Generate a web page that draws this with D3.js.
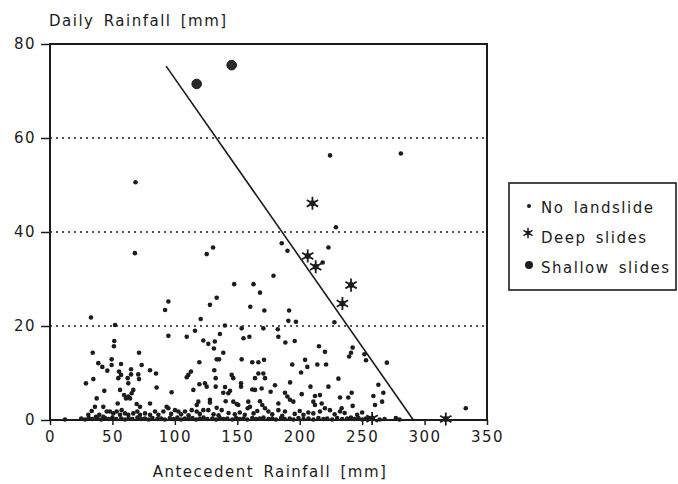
<!DOCTYPE html>
<html>
<head>
<meta charset="utf-8">
<script src="https://d3js.org/d3.v7.min.js"></script>
<style>
  body { margin: 0; background: white; }
  text { font-family: "DejaVu Sans", sans-serif; font-size: 15px; letter-spacing: 1.5px; word-spacing: 3px; fill: #1c1c1c; }
</style>
</head>
<body>
<div id="chart"></div>
<script>
// tick values
var xTicks = [0, 50, 100, 150, 200, 250, 300, 350];
var yTicks = [0, 20, 40, 60, 80];
var gridLines = [20, 40, 60];

// threshold line, two ends [antecedent, daily]
var threshold = [[93, 75.3], [291, 0]];

// shallow slides [antecedent, daily]
var shallowSlides = [[117.5, 71.5], [145.5, 75.5]];

// deep slides
var deepSlides = [[210.2, 46.1], [206.4, 34.9], [212.8, 32.6], [241.1, 28.7], [234.2, 24.8], [258, 0.3], [317, 0.2]];

// no landslide
var noSlideHigh = [
  [68.5, 50.6], [68, 35.5], [224.3, 56.3], [281, 56.7], [229, 41], [223, 36.7], [218.4, 33.5], [185.6, 37.6],
  [190.2, 36], [179, 30.7], [147.5, 28.9], [163, 28.9], [168.2, 27.1], [160.4, 24.1], [171.7, 23.3], [191.5, 23.3],
  [190.9, 21.1], [197, 20.9], [227.8, 20.8], [125.5, 35.3], [130.6, 36.7], [94.8, 25.2], [92.2, 23.4], [133.5, 26],
  [128.1, 24.5], [32.8, 21.8], [52.1, 20.2], [120.7, 21.5], [140.1, 20.1]
];
var noSlideMid = [
  [116.1, 19], [109.5, 17.7], [94.8, 17.9], [136.1, 18.3], [51.5, 16.8], [51.2, 15.7], [122.8, 16.9], [126.8, 16.2],
  [132, 16.7], [131.3, 15.2], [153.5, 19.5], [170.9, 19.5], [182.4, 19.3], [182.9, 17.7], [155, 17.4], [159.7, 17.7],
  [188.5, 16.5], [196, 16.8], [242.4, 15.4], [241.1, 14.3], [239.6, 13.5], [251.8, 14], [253.1, 12.7], [269.8, 12.2],
  [215.4, 15.7], [220.2, 14.5], [34.2, 14.3], [71.3, 14.3], [138.8, 14.3], [153.5, 12.9], [162, 12.3], [166.9, 12.3],
  [171.4, 12.8], [119.6, 12.3], [133.5, 12.9], [135.4, 12.9], [38.7, 12.1], [41.9, 11.3], [49.4, 12.9], [49.4, 11.7],
  [45.9, 10.5], [56.9, 11.9], [64.9, 10.8], [73.4, 11.7], [80.1, 10.6], [84.9, 9.9], [194, 11.8], [204.3, 12.8],
  [206.1, 11.3], [214.1, 11.8], [221.1, 11.8], [201.1, 10.1], [112.9, 10.3], [110.8, 9.6], [109.5, 9.1], [131.6, 10.6],
  [132.7, 8.9], [145.5, 9.6], [146.8, 8.9], [166.9, 9.9], [170.9, 9.9], [164.2, 8.9], [172.2, 8.9]
];
var noSlideLow = [
  [55.3, 10.3], [54.7, 8.9], [56.9, 9.6], [64.9, 9.7], [62.2, 8.9], [70.7, 9.7], [71.3, 8.7], [28.8, 7.8],
  [34.7, 8.7], [43.5, 6.2], [62.7, 7.8], [56.1, 6.4], [59.3, 5.3], [62.7, 5], [65.4, 5.7], [66.7, 6.4],
  [64.1, 4.6], [60.9, 4.6], [85.4, 6.9], [97.4, 5.9], [114.8, 6.4], [119.6, 7.6], [124.1, 7.8], [125.5, 7.1],
  [132.7, 7.1], [140.2, 7], [138.8, 5.8], [144.2, 6.2], [142.8, 5.7], [153, 7.8], [153, 7.1], [162, 6.5],
  [164.2, 6.4], [169.5, 6.7], [176.7, 6], [180.2, 7.4], [231, 8.8], [192.3, 8], [208.6, 7.1], [223, 7.1],
  [263, 7.5], [267, 5.8], [259, 5.1], [266, 3.9], [260.3, 3.2], [201.6, 5.5], [212.2, 5.1], [216.2, 5.3],
  [210.9, 3.9], [212.2, 3.2], [217.6, 3.5], [220.2, 2.5], [224.2, 2.1], [188.2, 5.8], [190.1, 5], [192.2, 4.3],
  [194.9, 3.9], [232.3, 4.8], [238.9, 4.8], [241.6, 5.8], [242.4, 3], [233.6, 2.5], [232.3, 1.8], [188.2, 1.8],
  [206.9, 1.6], [210.9, 1.4], [216.2, 1.8]
];
var noSlideFloor = [
  [37.4, 4.6], [54.2, 3.5], [69.4, 3.4], [72.1, 2.8], [80.1, 3.5], [36, 2.8], [33.4, 1.9], [30.7, 1.1],
  [42.7, 2.8], [45.4, 1.8], [48, 1.8], [50.7, 1.4], [39.5, 1.1], [36.8, 0.7], [42.7, 0.7], [53.4, 1.8],
  [57.4, 2.1], [56.1, 1.1], [60.1, 1.4], [62.7, 1.1], [66.7, 1.4], [69.9, 1.8], [72.1, 1.1], [76.1, 1.4],
  [80.1, 1.1], [84.1, 1.8], [86.8, 1.1], [90.8, 1.8], [94.8, 2.5], [128.1, 4.3], [128.1, 3.7], [140.7, 4],
  [146.8, 3.9], [149.5, 3.4], [150.8, 3.2], [158.8, 3.9], [168.2, 4], [170, 3.2], [172.2, 2.5], [174.9, 1.8],
  [118.8, 3.9], [117.5, 3.2], [182.9, 3.5], [182.9, 2.1], [158.3, 2.5], [160.2, 2.8], [133.5, 2.6], [137.5, 2.1],
  [93.4, 2.8], [100.1, 2.1], [102.8, 1.8], [108.1, 1.8], [113.5, 2.1], [117.5, 1.8], [122.8, 2.1], [126.8, 2.1],
  [143, 1.5], [148, 1.2], [152, 1.6], [156, 1.1], [163, 1.4], [166, 1.9], [178, 1.2], [186, 0.9],
  [196, 1.3], [200, 1.9], [203, 1.1], [228, 1.2], [236, 1.5], [246, 1.1], [250, 1.6], [105, 1.2],
  [111, 1.0], [120, 1.3], [131, 1.2], [135, 1.0], [97, 1.3]
];
var noSlideZero = [
  [12, 0.1], [25, 0.3], [28, 0.1], [31, 0.4], [34, 0.2], [38, 0.3], [41, 0.1], [44, 0.4], [47, 0.2], [50, 0.5],
  [53, 0.2], [57, 0.3], [60, 0.1], [63, 0.4], [66, 0.2], [70, 0.5], [73, 0.2], [76, 0.3], [79, 0.1], [82, 0.4],
  [86, 0.2], [89, 0.3], [92, 0.1], [96, 0.4], [99, 0.2], [102, 0.5], [105, 0.1], [108, 0.3], [111, 0.2], [114, 0.4],
  [117, 0.1], [120, 0.3], [123, 0.5], [126, 0.2], [130, 0.3], [133, 0.1], [136, 0.4], [139, 0.2], [142, 0.3], [146, 0.1],
  [149, 0.4], [152, 0.2], [155, 0.3], [158, 0.1], [162, 0.4], [165, 0.2], [168, 0.3], [171, 0.5], [175, 0.2], [178, 0.3],
  [181, 0.1], [185, 0.4], [188, 0.2], [192, 0.3], [195, 0.1], [199, 0.4], [203, 0.2], [207, 0.3], [211, 0.1], [215, 0.4],
  [219, 0.2], [222, 0.3], [226, 0.1], [230, 0.4], [234, 0.2], [238, 0.3], [241, 0.5], [244, 0.2], [247, 0.4], [250, 0.1],
  [253, 0.3], [255, 0.4], [264, 0.1], [268, 0.2], [277, 0.4], [280, 0.1], [333, 2.5]
];
var noSlide = noSlideHigh.concat(noSlideMid, noSlideLow, noSlideFloor, noSlideZero);

var legendItems = ["No landslide", "Deep slides", "Shallow slides"];

var W = 678, H = 484;
var ink = "#1c1c1c";

var svg = d3.select("#chart").append("svg")
    .attr("width", W)
    .attr("height", H);

var x = d3.scaleLinear().domain([0, 350]).range([50, 487]);
var y = d3.scaleLinear().domain([0, 80]).range([420, 44]);

// dotted grid
svg.append("g").selectAll("line")
  .data(gridLines)
  .enter().append("line")
    .attr("x1", x(0)).attr("x2", x(350))
    .attr("y1", function(d) { return y(d); })
    .attr("y2", function(d) { return y(d); })
    .attr("stroke", ink)
    .attr("stroke-width", 1.4)
    .attr("stroke-dasharray", "2,4");

// axes
var xAxis = svg.append("g")
    .attr("transform", "translate(0," + y(0) + ")")
    .call(d3.axisBottom(x).tickValues(xTicks).tickSize(5).tickPadding(6));
var yAxis = svg.append("g")
    .attr("transform", "translate(" + x(0) + ",0)")
    .call(d3.axisLeft(y).tickValues(yTicks).tickSize(9).tickPadding(5));
[xAxis, yAxis].forEach(function(a) {
  a.select(".domain").remove();
  a.selectAll("line").attr("stroke", ink).attr("stroke-width", 1.5);
  a.selectAll("text").style("font-size", "15px").attr("fill", ink);
});

// frame
svg.append("rect")
    .attr("x", x(0)).attr("y", y(80))
    .attr("width", x(350) - x(0)).attr("height", y(0) - y(80))
    .attr("fill", "none")
    .attr("stroke", ink)
    .attr("stroke-width", 2);

// threshold line
svg.append("path")
    .datum(threshold)
    .attr("d", d3.line().x(function(d) { return x(d[0]); }).y(function(d) { return y(d[1]); }))
    .attr("stroke", ink)
    .attr("stroke-width", 1.6)
    .attr("fill", "none");

// no landslide dots
svg.append("g").selectAll("circle")
  .data(noSlide)
  .enter().append("circle")
    .attr("cx", function(d) { return x(d[0]); })
    .attr("cy", function(d) { return y(d[1]); })
    .attr("r", 2.3)
    .attr("fill", ink);

// deep slides
var star = d3.symbol().type(d3.symbolAsterisk).size(120);
function drawDeep(g) {
  g.append("path").attr("d", star).attr("stroke", ink).attr("stroke-width", 1.8).attr("fill", "none");
  g.append("circle").attr("r", 3).attr("fill", ink);
}
svg.append("g").selectAll("g")
  .data(deepSlides)
  .enter().append("g")
    .attr("transform", function(d) { return "translate(" + x(d[0]) + "," + y(d[1]) + ")"; })
    .each(function() { drawDeep(d3.select(this)); });

// shallow slides
svg.append("g").selectAll("circle")
  .data(shallowSlides)
  .enter().append("circle")
    .attr("cx", function(d) { return x(d[0]); })
    .attr("cy", function(d) { return y(d[1]); })
    .attr("r", 4.8)
    .attr("fill", "#2a2a2a")
    .attr("stroke", ink)
    .attr("stroke-width", 1);

// axis titles
svg.append("text").attr("x", 49).attr("y", 26).text("Daily Rainfall [mm]");
svg.append("text").attr("x", 270).attr("y", 477).attr("text-anchor", "middle").text("Antecedent Rainfall [mm]");

// legend
var lg = svg.append("g");
lg.append("rect")
    .attr("x", 509).attr("y", 183)
    .attr("width", 167).attr("height", 107)
    .attr("fill", "white")
    .attr("stroke", ink)
    .attr("stroke-width", 1.6);
var rowY = [213, 243, 273];
lg.selectAll("text.lbl")
  .data(legendItems)
  .enter().append("text")
    .attr("class", "lbl")
    .attr("x", 541)
    .attr("y", function(d, i) { return rowY[i]; })
    .text(function(d) { return d; });
lg.append("circle").attr("cx", 529).attr("cy", 206).attr("r", 2).attr("fill", ink);
drawDeep(lg.append("g").attr("transform", "translate(528,233)").attr("transform", "translate(528,233) scale(0.8)"));
lg.append("circle").attr("cx", 529).attr("cy", 265).attr("r", 4).attr("fill", ink);
</script>
</body>
</html>
